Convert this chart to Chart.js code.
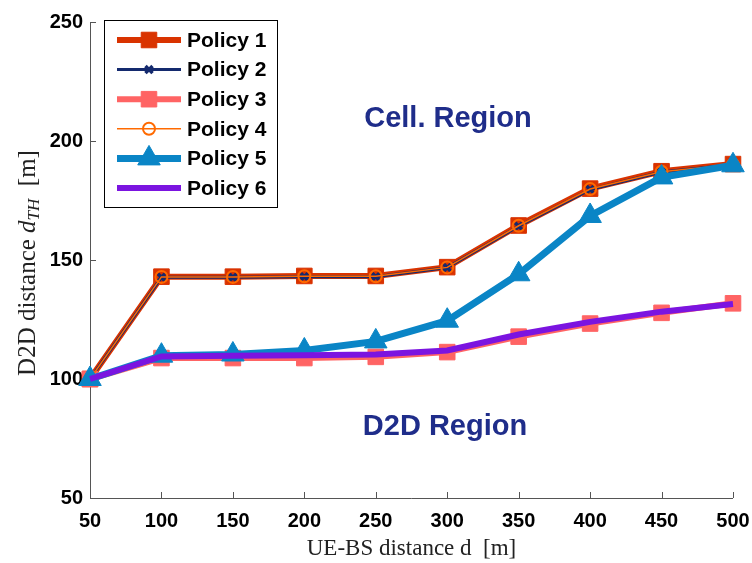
<!DOCTYPE html>
<html>
<head>
<meta charset="utf-8">
<script src="https://cdn.jsdelivr.net/npm/chart.js@4.4.0/dist/chart.umd.min.js"></script>
<style>
  html, body { margin: 0; padding: 0; background: #ffffff; }
  #wrap { position: relative; width: 752px; height: 563px; }
</style>
</head>
<body>
<div id="wrap"><canvas id="chart" width="752" height="563"></canvas></div>
<script>
// UE-BS distance d [m]
const distances = [50, 100, 150, 200, 250, 300, 350, 400, 450, 500];

// D2D distance threshold d_TH [m] per policy
const policy1 = [100, 143.0, 143.0, 143.3, 143.3, 147.0, 164.5, 180.0, 187.3, 190.3];
const policy2 = [100, 142.7, 142.7, 143.0, 143.0, 146.8, 164.2, 179.6, 187.0, 190.0];
const policy3 = [100, 108.8, 108.8, 108.8, 109.3, 111.3, 117.8, 123.3, 127.8, 131.8];
const policy4 = [100, 142.9, 142.9, 143.2, 143.2, 146.9, 164.4, 179.8, 187.1, 190.1];
const policy5 = [100, 109.8, 110.3, 112.0, 115.8, 124.5, 144.0, 168.5, 184.7, 189.8];
const policy6 = [100, 109.5, 109.8, 110.0, 110.3, 112.0, 118.7, 124.0, 128.3, 131.5];

const policyNames = ["Policy 1", "Policy 2", "Policy 3", "Policy 4", "Policy 5", "Policy 6"];
const xTicks = [50, 100, 150, 200, 250, 300, 350, 400, 450, 500];
const yTicks = [50, 100, 150, 200, 250];

const styles = [
  { color: "#d93300", width: 6, point: "rect", radius: 11, fill: "#d93300", pbw: 1 },
  { color: "#142a6e", width: 3, point: "crossRot", radius: 5, fill: "#142a6e", pbw: 3.5 },
  { color: "#ff6464", width: 6, point: "rect", radius: 11, fill: "#ff6464", pbw: 1 },
  { color: "#ff6a00", width: 1.5, point: "circle", radius: 6, fill: "rgba(0,0,0,0)", pbw: 2 },
  { color: "#0a85c6", width: 7, point: "triangle", radius: 13, fill: "#0a85c6", pbw: 1 },
  { color: "#7b14e0", width: 6, point: false, radius: 0, fill: "#7b14e0", pbw: 0 },
];

const seriesData = [policy1, policy2, policy3, policy4, policy5, policy6];

const datasets = seriesData.map((vals, i) => ({
  label: policyNames[i],
  data: vals.map((v, j) => ({ x: distances[j], y: v })),
  borderColor: styles[i].color,
  borderWidth: styles[i].width,
  backgroundColor: styles[i].fill,
  pointStyle: styles[i].point,
  pointRadius: styles[i].radius,
  pointBackgroundColor: styles[i].fill,
  pointBorderColor: styles[i].color,
  pointBorderWidth: styles[i].pbw,
  tension: 0,
  fill: false,
  clip: false,
  order: 5 - i, // later policies drawn on top
}));

function drawMarker(ctx, style, x, y, r) {
  ctx.beginPath();
  if (style === "rect") {
    const s = r * Math.SQRT1_2;
    ctx.rect(x - s, y - s, 2 * s, 2 * s);
    ctx.fill(); ctx.stroke();
  } else if (style === "circle") {
    ctx.arc(x, y, r, 0, Math.PI * 2);
    ctx.fill(); ctx.stroke();
  } else if (style === "triangle") {
    ctx.moveTo(x, y - r);
    ctx.lineTo(x + 0.866 * r, y + r / 2);
    ctx.lineTo(x - 0.866 * r, y + r / 2);
    ctx.closePath();
    ctx.fill(); ctx.stroke();
  } else if (style === "crossRot") {
    const d = r * Math.SQRT1_2;
    ctx.moveTo(x - d, y - d); ctx.lineTo(x + d, y + d);
    ctx.moveTo(x - d, y + d); ctx.lineTo(x + d, y - d);
    ctx.stroke();
  }
}

// inward ticks and axis lines, MATLAB style (no top/right box)
const axesPlugin = {
  id: "axesPlugin",
  beforeDatasetsDraw(chart) {
    const { ctx, chartArea, scales } = chart;
    ctx.save();
    ctx.strokeStyle = "#555555";
    ctx.lineWidth = 1;
    ctx.beginPath();
    ctx.moveTo(chartArea.left + 0.5, chartArea.top);
    ctx.lineTo(chartArea.left + 0.5, chartArea.bottom + 0.5);
    ctx.lineTo(chartArea.right, chartArea.bottom + 0.5);
    xTicks.forEach((t) => {
      const px = Math.round(scales.x.getPixelForValue(t)) + 0.5;
      ctx.moveTo(px, chartArea.bottom);
      ctx.lineTo(px, chartArea.bottom - 6);
    });
    yTicks.forEach((t) => {
      const py = Math.round(scales.y.getPixelForValue(t)) + 0.5;
      ctx.moveTo(chartArea.left, py);
      ctx.lineTo(chartArea.left + 6, py);
    });
    ctx.stroke();
    ctx.restore();
  },
  afterDatasetsDraw(chart) {
    const { ctx } = chart;
    ctx.save();
    // region labels
    ctx.fillStyle = "#1f2d8a";
    ctx.font = "bold 29px 'Liberation Sans', Arial, sans-serif";
    ctx.textAlign = "center";
    ctx.textBaseline = "middle";
    ctx.fillText("Cell. Region", 448, 119);
    ctx.fillText("D2D Region", 445, 427);

    // y axis title with italic subscript
    ctx.translate(27, 263);
    ctx.rotate(-Math.PI / 2);
    ctx.fillStyle = "#222222";
    ctx.textAlign = "left";
    ctx.textBaseline = "alphabetic";
    const rm = "25px 'Liberation Serif', 'DejaVu Serif', serif";
    const it = "italic 25px 'Liberation Serif', 'DejaVu Serif', serif";
    const sub = "italic 17px 'Liberation Serif', 'DejaVu Serif', serif";
    const parts = [
      { t: "D2D distance ", f: rm, dy: 0 },
      { t: "d", f: it, dy: 0 },
      { t: "TH", f: sub, dy: 4 },
      { t: "  [m]", f: rm, dy: 0 },
    ];
    let total = 0;
    parts.forEach((p) => { ctx.font = p.f; total += ctx.measureText(p.t).width; });
    let cx = -total / 2;
    parts.forEach((p) => {
      ctx.font = p.f;
      ctx.fillText(p.t, cx, 8 + p.dy);
      cx += ctx.measureText(p.t).width;
    });
    ctx.restore();
  },
  afterDraw(chart) {
    const { ctx } = chart;
    ctx.save();
    // legend box
    const bx = 104.5, by = 20.5, bw = 173, bh = 187;
    ctx.fillStyle = "#ffffff";
    ctx.fillRect(bx, by, bw, bh);
    ctx.strokeStyle = "#000000";
    ctx.lineWidth = 1;
    ctx.strokeRect(bx, by, bw, bh);
    ctx.font = "bold 21px 'Liberation Sans', Arial, sans-serif";
    ctx.textBaseline = "middle";
    ctx.textAlign = "left";
    policyNames.forEach((name, i) => {
      const y = 40 + i * 29.6;
      const s = styles[i];
      ctx.strokeStyle = s.color;
      ctx.lineWidth = s.width;
      ctx.beginPath();
      ctx.moveTo(117, y);
      ctx.lineTo(181, y);
      ctx.stroke();
      if (s.point) {
        ctx.fillStyle = s.fill;
        ctx.lineWidth = s.pbw;
        drawMarker(ctx, s.point, 149, y, s.radius);
      }
      ctx.fillStyle = "#000000";
      ctx.fillText(name, 187, y + 1);
    });
    ctx.restore();
  },
};

const tickFont = { family: "'Liberation Sans', Arial, sans-serif", size: 20, weight: "bold" };

new Chart(document.getElementById("chart"), {
  type: "line",
  data: { datasets: datasets },
  options: {
    responsive: false,
    animation: false,
    layout: { padding: { left: 0, top: 22, right: 19, bottom: 0 } },
    plugins: {
      legend: { display: false },
      tooltip: { enabled: false },
    },
    scales: {
      x: {
        type: "linear",
        min: 50,
        max: 500,
        afterBuildTicks: (scale) => { scale.ticks = xTicks.map((v) => ({ value: v })); },
        afterFit: (scale) => {
          scale.height = 65;
          scale.paddingLeft = 0;
          scale.paddingRight = 0;
        },
        grid: { display: false, drawTicks: false },
        border: { display: false },
        ticks: { color: "#000000", font: tickFont, padding: 11, maxRotation: 0 },
        title: {
          display: true,
          text: "UE-BS distance d  [m]",
          color: "#222222",
          font: { family: "'Liberation Serif', 'DejaVu Serif', serif", size: 23 },
          padding: { top: 4, bottom: 0 },
        },
      },
      y: {
        type: "linear",
        min: 50,
        max: 250,
        afterBuildTicks: (scale) => { scale.ticks = yTicks.map((v) => ({ value: v })); },
        afterFit: (scale) => {
          scale.width = 90;
          scale.paddingTop = 0;
          scale.paddingBottom = 0;
        },
        grid: { display: false, drawTicks: false },
        border: { display: false },
        ticks: { color: "#000000", font: tickFont, padding: 7 },
      },
    },
  },
  plugins: [axesPlugin],
});
</script>
</body>
</html>
